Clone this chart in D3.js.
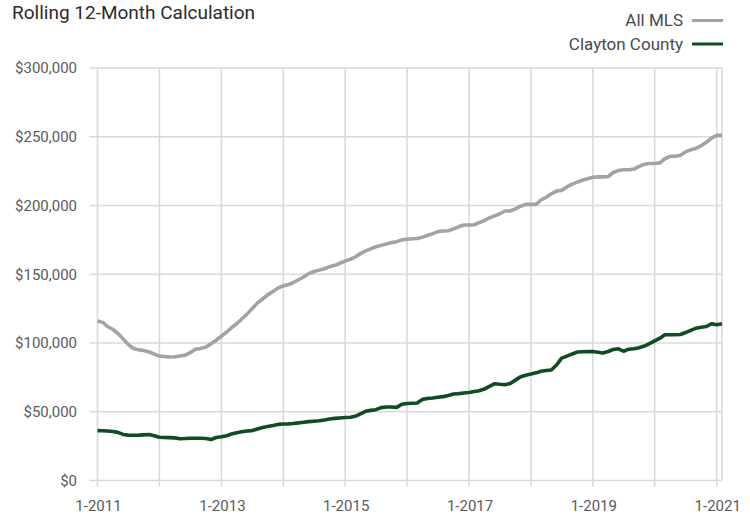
<!DOCTYPE html>
<html>
<head>
<meta charset="utf-8">
<script src="https://cdn.jsdelivr.net/npm/d3@7"></script>
<style>
  body { margin: 0; background: #fff; }
  text { font-family: Roboto, "Liberation Sans", sans-serif; }
</style>
</head>
<body>
<div id="chart"></div>
<script>
// monthly values, 1-2011 through 2-2021 (in $ thousands)
const seriesNames = ["All MLS", "Clayton County"];
const seriesColors = ["#a3a3a3", "#0e4d24"];

const allMls = [
  116, 115, 112, 110, 107, 103, 99, 96, 95, 94.5, 93.5, 92,
  90.5, 90.2, 89.8, 90, 90.6, 91.2, 93, 95.5, 96, 97, 99.5, 102,
  105, 108, 111, 114, 117.5, 121, 125, 129, 132, 135, 137.5, 140,
  141.5, 142.5, 144, 146, 148, 150.5, 152, 153, 154, 155.5, 156.5, 158,
  159.5, 161, 162.5, 165, 167, 168.5, 170, 171, 172, 173, 173.7, 175,
  175.4, 175.8, 176, 177, 178.3, 179.5, 181, 181.5, 181.6, 183, 184.5, 185.8,
  185.8, 186, 187.5, 189, 191, 192.5, 194, 196, 196, 197.5, 199.5, 200.8,
  200.8, 200.8, 204, 206, 208.5, 210.5, 211, 213.5, 215.5, 217, 218.4, 219.5,
  220.5, 220.8, 220.8, 221, 224, 225.5, 226, 226, 226.5, 228.5, 230, 230.5,
  230.5, 231, 234, 235.8, 235.8, 236.5, 239, 240.5, 241.5, 243.5, 246, 249,
  251, 251
];

const clayton = [
  36.3, 36.2, 36, 35.6, 35, 33.5, 33, 32.9, 33, 33.2, 33.4, 32.5,
  31.4, 31.3, 31.2, 31, 30.4, 30.5, 30.7, 30.7, 30.7, 30.5, 29.8, 31.3,
  31.8, 32.6, 33.8, 34.8, 35.5, 36, 36.3, 37.5, 38.5, 39.3, 40, 40.8,
  41.1, 41.2, 41.4, 41.9, 42.4, 42.8, 43.1, 43.4, 44, 44.7, 45.2, 45.5,
  45.8, 46, 46.7, 48.5, 50.3, 51, 51.5, 53, 53.5, 53.4, 53.2, 55.5,
  56, 56.2, 56.4, 59, 59.7, 60, 60.5, 61, 61.8, 62.9, 63.2, 63.6,
  64, 64.7, 65.3, 66.5, 68.5, 70.4, 70, 69.7, 70.6, 73, 75.5, 76.6,
  77.4, 78.3, 79.5, 80, 80.4, 84, 89, 90.5, 92, 93.4, 93.6, 93.7,
  93.8, 93.3, 92.7, 93.8, 95.3, 95.8, 94, 95.5, 95.8, 96.5, 97.8, 99.5,
  101.5, 103.5, 106, 106, 106, 106.2, 107.6, 109.2, 110.8, 111.5, 112, 114,
  113.2, 114
];

const yTicks = [0, 50000, 100000, 150000, 200000, 250000, 300000];
const xLabelYears = [2011, 2013, 2015, 2017, 2019, 2021];

const width = 750, height = 515;
const margin = {top: 68, right: 28, bottom: 34.5, left: 97.5};

const months = allMls.map((d, i) => new Date(2011, i, 1));

const svg = d3.select("#chart")
  .append("svg")
  .attr("width", width)
  .attr("height", height);

const x = d3.scaleTime()
  .domain([months[0], months[months.length - 1]])
  .range([margin.left, width - margin.right]);

const y = d3.scaleLinear()
  .domain([0, 300000])
  .range([height - margin.bottom, margin.top]);

const gridColor = "#dadada";

// horizontal grid lines (with little stubs to the left)
svg.append("g")
  .selectAll("line")
  .data(yTicks)
  .join("line")
    .attr("x1", margin.left - 8)
    .attr("x2", width - margin.right)
    .attr("y1", d => y(d))
    .attr("y2", d => y(d))
    .attr("stroke", gridColor)
    .attr("stroke-width", 1.6);

// vertical grid lines, one per year
const years = d3.timeYear.range(new Date(2011, 0, 1), new Date(2021, 1, 1));
svg.append("g")
  .selectAll("line")
  .data(years)
  .join("line")
    .attr("x1", d => x(d))
    .attr("x2", d => x(d))
    .attr("y1", margin.top)
    .attr("y2", y(0) + 6)
    .attr("stroke", gridColor)
    .attr("stroke-width", 1.6);

// right border
svg.append("line")
  .attr("x1", x.range()[1]).attr("x2", x.range()[1])
  .attr("y1", margin.top).attr("y2", y(0))
  .attr("stroke", gridColor)
  .attr("stroke-width", 1.6);

// y labels
svg.append("g")
  .selectAll("text")
  .data(yTicks)
  .join("text")
    .attr("x", 77)
    .attr("y", d => y(d))
    .attr("dy", "0.35em")
    .attr("text-anchor", "end")
    .attr("font-size", 15)
    .attr("fill", "#5a5a5a")
    .text(d => d3.format("$,")(d));

// x labels
svg.append("g")
  .selectAll("text")
  .data(xLabelYears)
  .join("text")
    .attr("x", d => x(new Date(d, 0, 1)) + 1)
    .attr("y", 511)
    .attr("text-anchor", "middle")
    .attr("font-size", 15)
    .attr("fill", "#5a5a5a")
    .text(d => "1-" + d);

// the lines
const line = d3.line()
  .x((d, i) => x(months[i]))
  .y(d => y(d * 1000));

[allMls, clayton].forEach((s, k) => {
  svg.append("path")
    .datum(s)
    .attr("fill", "none")
    .attr("stroke", seriesColors[k])
    .attr("stroke-width", 3.6)
    .attr("stroke-linejoin", "round")
    .attr("d", line);
});

// title
svg.append("text")
  .attr("x", 12)
  .attr("y", 19)
  .attr("font-size", 19)
  .attr("fill", "#2b2b2b")
  .text("Rolling 12-Month Calculation");

// legend
const legend = svg.append("g")
  .selectAll("g")
  .data(seriesNames)
  .join("g")
    .attr("transform", (d, i) => "translate(0," + (26 + i * 23.5) + ")");

legend.append("text")
  .attr("x", 683)
  .attr("y", 0)
  .attr("text-anchor", "end")
  .attr("font-size", 17)
  .attr("fill", "#4a4a4a")
  .text(d => d);

legend.append("line")
  .attr("x1", 692)
  .attr("x2", 723)
  .attr("y1", -5.5)
  .attr("y2", -5.5)
  .attr("stroke", (d, i) => seriesColors[i])
  .attr("stroke-width", 3);
</script>
</body>
</html>
